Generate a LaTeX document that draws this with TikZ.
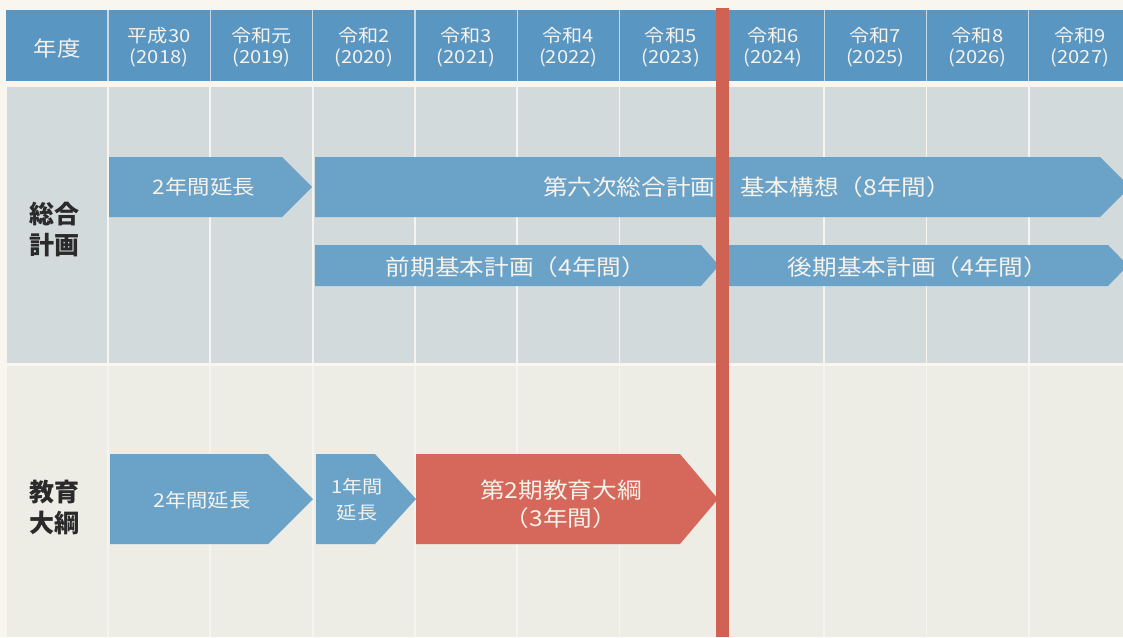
\documentclass[tikz,border=0pt]{standalone}
\usepackage{fontspec}
\setmainfont{Noto Sans CJK JP}
\newfontfamily\jpw[FakeStretch=1.12]{Noto Sans CJK JP}
\definecolor{pagebg}{HTML}{F8F6EE}
\definecolor{headblue}{HTML}{5A96C2}
\definecolor{headline}{HTML}{C6DAE8}
\definecolor{upperbg}{HTML}{D3DADB}
\definecolor{lowerbg}{HTML}{EDECE5}
\definecolor{gridline}{HTML}{F4F4F0}
\definecolor{arrowblue}{HTML}{6AA2C8}
\definecolor{arrowred}{HTML}{D5685A}
\definecolor{redline}{HTML}{CF6252}
\definecolor{txtwhite}{HTML}{F6F3EC}
\definecolor{labeltxt}{HTML}{2A2A2A}
\tikzset{
  barblue/.style={fill=arrowblue},
  barred/.style={fill=arrowred},
  bartext/.style={text=txtwhite, align=center, inner sep=0pt},
  headtext/.style={text=txtwhite, align=center, inner sep=0pt, font=\jpw\fontsize{18}{21}\selectfont},
  sectlabel/.style={text=labeltxt, align=center, inner sep=0pt, font=\bfseries\fontsize{25}{31}\selectfont},
}
% style, x-left, x-tip, y-top, y-bottom, tip depth
\newcommand\tlbar[6]{%
  \fill[#1] (#2,#4) -- ({#3-#6},#4) -- (#3,{(#4+#5)/2}) -- ({#3-#6},#5) -- (#2,#5) -- cycle;}
\begin{document}
\begin{tikzpicture}[x=1pt,y=-1pt]
\useasboundingbox (0,0) rectangle (1123,637);
\clip (0,0) rectangle (1123,637);
\fill[pagebg] (0,0) rectangle (1123,637);
% header
\fill[headblue] (6,10) rectangle (1123,81);
% sections
\fill[upperbg] (7,87) rectangle (1123,363);
\fill[lowerbg] (7,366) rectangle (1123,637);
% grid lines
\foreach \k in {0,...,9}{
  \draw[headline, line width=1.2pt] ({108+102.3*\k},10) -- ({108+102.3*\k},81);
  \draw[gridline, line width=1.8pt] ({108+102.3*\k},87) -- ({108+102.3*\k},363);
  \draw[gridline, line width=1.8pt] ({108+102.3*\k},366) -- ({108+102.3*\k},637);
}
% header texts
\node[headtext, font=\jpw\fontsize{21}{24}\selectfont] (hyear) at (57,48) {年度};
\foreach \a/\b [count=\i from 0] in {平成30/2018, 令和元/2019, 令和2/2020, 令和3/2021, 令和4/2022, 令和5/2023, 令和6/2024, 令和7/2025, 令和8/2026, 令和9/2027}{
  \node[headtext] (h\i) at ({108+102.3*(\i+0.5)},47.5) {\a\\(\b)};
}
% section labels
\node[sectlabel] (sogo) at (54,229) {総合\\計画};
\node[sectlabel] (kyoiku) at (54,507) {教育\\大綱};
% 総合計画 bars
\tlbar{barblue}{109}{312}{157}{217}{30}
\tlbar{barblue}{315}{1130}{157}{217}{30}
\tlbar{barblue}{315}{719}{245}{286}{18}
\tlbar{barblue}{728}{1128}{245}{286}{20}
\node[bartext, font=\jpw\fontsize{20}{24}\selectfont] (a1) at (204,187) {2年間延長};
\node[bartext, font=\jpw\fontsize{22}{26}\selectfont] (a2) at (747,187) {第六次総合計画　基本構想（8年間）};
\node[bartext, font=\jpw\fontsize{22}{26}\selectfont] (a3) at (516,267) {前期基本計画（4年間）};
\node[bartext, font=\jpw\fontsize{22}{26}\selectfont] (a4) at (918,267) {後期基本計画（4年間）};
% 教育大綱 bars
\tlbar{barblue}{110}{313}{454}{544}{45}
\tlbar{barblue}{316}{416}{454}{544}{41}
\tlbar{barred}{416}{718}{454}{544}{38}
\node[bartext, font=\jpw\fontsize{19}{23}\selectfont] (b1) at (202,500) {2年間延長};
\node[bartext, font=\jpw\fontsize{18}{26}\selectfont] (b2) at (357,500) {1年間\\延長};
\node[bartext, font=\jpw\fontsize{22}{28}\selectfont] (b3) at (561,504) {第2期教育大綱\\（3年間）};
% current year line
\fill[redline] (716,8) rectangle (729,637);
\end{tikzpicture}
\end{document}
